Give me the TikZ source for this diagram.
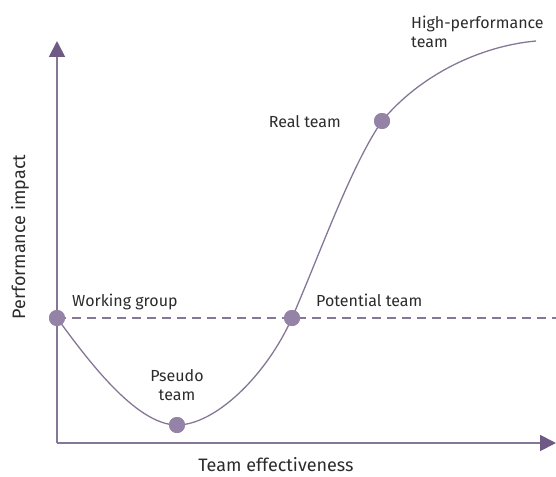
\documentclass[tikz,border=0pt]{standalone}
\usepackage{fontspec}
\setmainfont{Fira Sans}
\usetikzlibrary{arrows.meta}
\definecolor{axiscol}{HTML}{857896}
\definecolor{tipcol}{HTML}{6E5A84}
\definecolor{dotcol}{HTML}{9483A6}
\definecolor{txtcol}{HTML}{2B2B2B}
\tikzset{
    stagedot/.style={
        circle,
        fill=dotcol, % dot fill
        minimum size=16pt,
        inner sep=0
    },
    stagelabel/.style={
        text=txtcol,
        inner sep=0,
        font=\fontsize{16}{19}\selectfont,
        align=left
    },
    axislabel/.style={
        text=txtcol,
        inner sep=0,
        font=\fontsize{18}{20}\selectfont
    },
    axisline/.style={
        draw=axiscol,
        line width=1.8pt,
        -{Triangle[length=16pt,width=16pt,color=tipcol]}
    }
}
\begin{document}
\begin{tikzpicture}[x=1pt,y=-1pt]
    \useasboundingbox (0,0) rectangle (556,476);
    % axes
    \coordinate (origin) at (57,443);
    \coordinate (ytop) at (57,41);
    \coordinate (xend) at (556,443);
    \draw[axisline] (origin) -- (ytop);
    \draw[axisline] (origin) -- (xend);
    % stages
    \node[stagedot] (working) at (57,318) {};
    \node[stagedot] (pseudo) at (177,425) {};
    \node[stagedot] (potential) at (292,318) {};
    \node[stagedot] (real) at (382,121) {};
    \coordinate (high) at (536,41);
    \coordinate (dashend) at (556,318);
    % baseline
    \draw[axiscol, line width=1.2pt, dash pattern=on 9pt off 6pt]
        (working.center) -- (dashend);
    % curve
    \draw[axiscol, line width=1.3pt]
        (working.center) .. controls (85,356) and (135,425) .. (pseudo.center)
        .. controls (215,425) and (266,376) .. (potential.center)
        .. controls (321,251) and (351,166) .. (real.center)
        .. controls (420,75) and (480,46) .. (high);
    \foreach \s in {working,pseudo,potential,real}
        \node[stagedot] at (\s) {};
    % labels
    \node[stagelabel, anchor=base west] (workinglbl) at (72,306) {Working group};
    \node[stagelabel, align=center, anchor=north] (pseudolbl) at (177,369) {Pseudo\\team};
    \node[stagelabel, anchor=base west] (potentiallbl) at (316,306) {Potential team};
    \node[stagelabel, anchor=base east] (reallbl) at (341,127) {Real team};
    \node[stagelabel, anchor=north west] (highlbl) at (411,16) {High-performance\\team};
    \node[axislabel, rotate=90, anchor=base] (ylbl) at (25,237) {Performance impact};
    \node[axislabel, anchor=base] (xlbl) at (276,471) {Team effectiveness};
\end{tikzpicture}
\end{document}
